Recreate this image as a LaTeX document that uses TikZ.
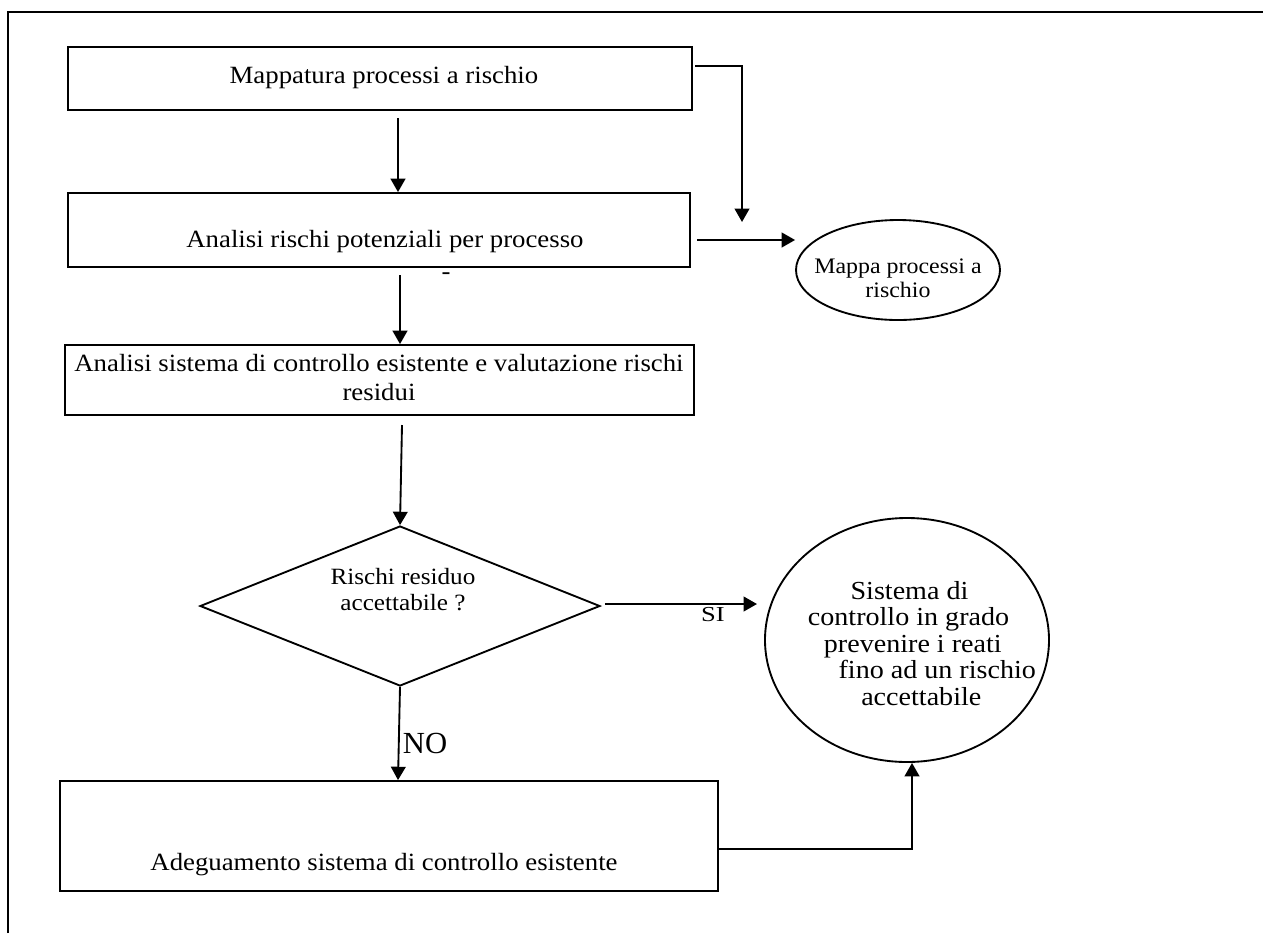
\documentclass[tikz,border=0pt]{standalone}
\usepackage{fontspec}
\setmainfont[FakeStretch=1.08]{Liberation Serif}
\newfontfamily\plainserif{Liberation Serif}
\usetikzlibrary{shapes.geometric,arrows.meta}
\begin{document}
\begin{tikzpicture}[x=0.75pt,y=-0.75pt,
  line width=1.4pt,
  box/.style={draw,rectangle,inner sep=0pt},
  txt/.style={inner sep=0pt,font=\fontsize{18.6}{21.75}\selectfont},
  arr/.style={-{Triangle[length=10pt,width=11pt]}},
  oval/.style={draw,ellipse,inner sep=0pt}]
\useasboundingbox (0,0) rectangle (1263,933);
\draw (8,933) -- (8,12) -- (1263,12);
% boxes
\node[box,minimum width=624*0.75pt,minimum height=63*0.75pt] (b1) at (380,78.5) {};
\node[txt] (t1) at (384,78) {Mappatura processi a rischio};
\node[box,minimum width=622*0.75pt,minimum height=74*0.75pt] (b2) at (379,230) {};
\node[txt] (t2) at (385,242) {Analisi rischi potenziali per processo};
\node[txt] (dash) at (446,276) {-};
\node[box,minimum width=629*0.75pt,minimum height=70*0.75pt] (b3) at (379.5,380) {};
\node[txt,align=center] (t3) at (379,377.5) {Analisi sistema di controllo esistente e valutazione rischi\\residui};
\node[draw,diamond,inner sep=0pt,minimum width=400*0.75pt,minimum height=160*0.75pt] (d) at (400,606) {};
\node[txt,align=center,font=\fontsize{17.5}{19.5}\selectfont] (td) at (403,590) {Rischi residuo\\accettabile ?};
\node[box,minimum width=658*0.75pt,minimum height=110*0.75pt] (b4) at (389,836) {};
\node[txt] (t4) at (384,865) {Adeguamento sistema di controllo esistente};
% ellipses
\node[oval,minimum width=204*0.75pt,minimum height=100*0.75pt] (e1) at (898,270) {};
\node[txt,align=center,font=\fontsize{16.6}{18}\selectfont] (te1) at (898,278) {Mappa processi a\\rischio};
\node[oval,minimum width=284*0.75pt,minimum height=244*0.75pt] (e2) at (907,640) {};
\node[txt,align=left,anchor=west,font=\fontsize{19.5}{19.9}\selectfont] (te2) at (807,643.5) {\hspace*{32pt}Sistema di\\controllo in grado\\\hspace*{12pt}prevenire i reati\\\hspace*{23pt}fino ad un rischio\\\hspace*{40pt}accettabile};
% connectors
\coordinate (c1) at (695,66);
\coordinate (c1b) at (742,66);
\coordinate (c1e) at (742,222);
\draw[arr] (c1) -- (c1b) -- (c1e);
\draw[arr] (398,118) -- (b2.north -| 398,0);
\draw[arr] (697,240) -- (e1.west |- 0,240);
\draw[arr] (400,275) -- (b3.north -| 400,0);
\draw[arr] (402,425) -- (d.north);
\coordinate (sie) at (757,604);
\draw[arr] (d.east) ++(4,-2) -- (sie);
\node[font=\fontsize{16}{18}\selectfont,inner sep=0pt] (si) at (713,615) {\scalebox{1.15}[1]{SI}};
\draw[arr] (d.south) -- (b4.north -| 398,0);
\node[font=\plainserif\fontsize{23}{26}\selectfont,inner sep=0pt] (no) at (425,743) {NO};
\draw[arr] (b4.east |- 0,849) -| (e2.south -| 912,0);
\end{tikzpicture}
\end{document}
